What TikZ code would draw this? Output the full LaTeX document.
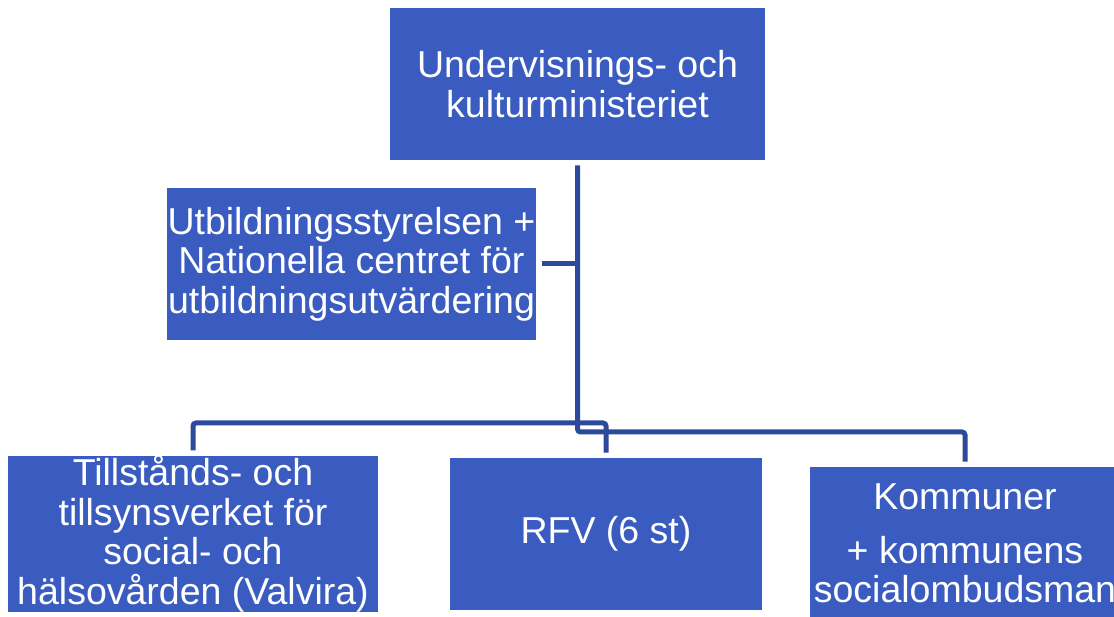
\documentclass[tikz,border=0pt]{standalone}
\usepackage{fontspec}
\setmainfont{Liberation Sans}
\usepackage{tikz}
\usetikzlibrary{positioning}
\definecolor{boxblue}{HTML}{3A5BBF}
\definecolor{lineblue}{HTML}{2C4A9B}
\tikzset {
  % organisation boxes
  org/.style = {fill=boxblue, text=white, align=center, outer sep=5.5pt,
    minimum height=152pt, inner sep=0pt,
    font=\fontsize{37.5}{39.5}\selectfont},
  % tree connectors
  link/.style = {lineblue, line width=5pt, rounded corners=3pt},
}

\begin{document}
\begin{tikzpicture}[x=1pt, y=-1pt]
        \clip (0,0) rectangle (1114,617);

        \node[org, minimum width=375pt] (ukm) at (577.5,84) {Undervisnings- och\\kulturministeriet};
        \node[org, minimum width=369pt] (utb) at (351.5,264) {Utbildningsstyrelsen +\\Nationella centret för\\utbildningsutvärdering};
        \node[org, minimum width=370pt] (valvira) at (193,534) {Tillstånds- och\\tillsynsverket för\\social- och\\hälsovården (Valvira)};
        \node[org, minimum width=312pt] (rfv) at (606,534) {RFV (6 st)};
        \node[org, minimum width=310pt, minimum height=153pt] (kom) at (965,543.5) {Kommuner\\[14pt]+ kommunens\\socialombudsman};

        \coordinate (hub) at (577.5,432);
        \coordinate (bar) at (0,423);

        \draw [link] (ukm.south) -- (hub) -| (kom.north);
        \draw [link] (utb.east) -- (utb.east -| hub);
        \draw [link] (valvira.north) |- (bar -| rfv.north) -- (rfv.north);
      \end{tikzpicture}
\end{document}
